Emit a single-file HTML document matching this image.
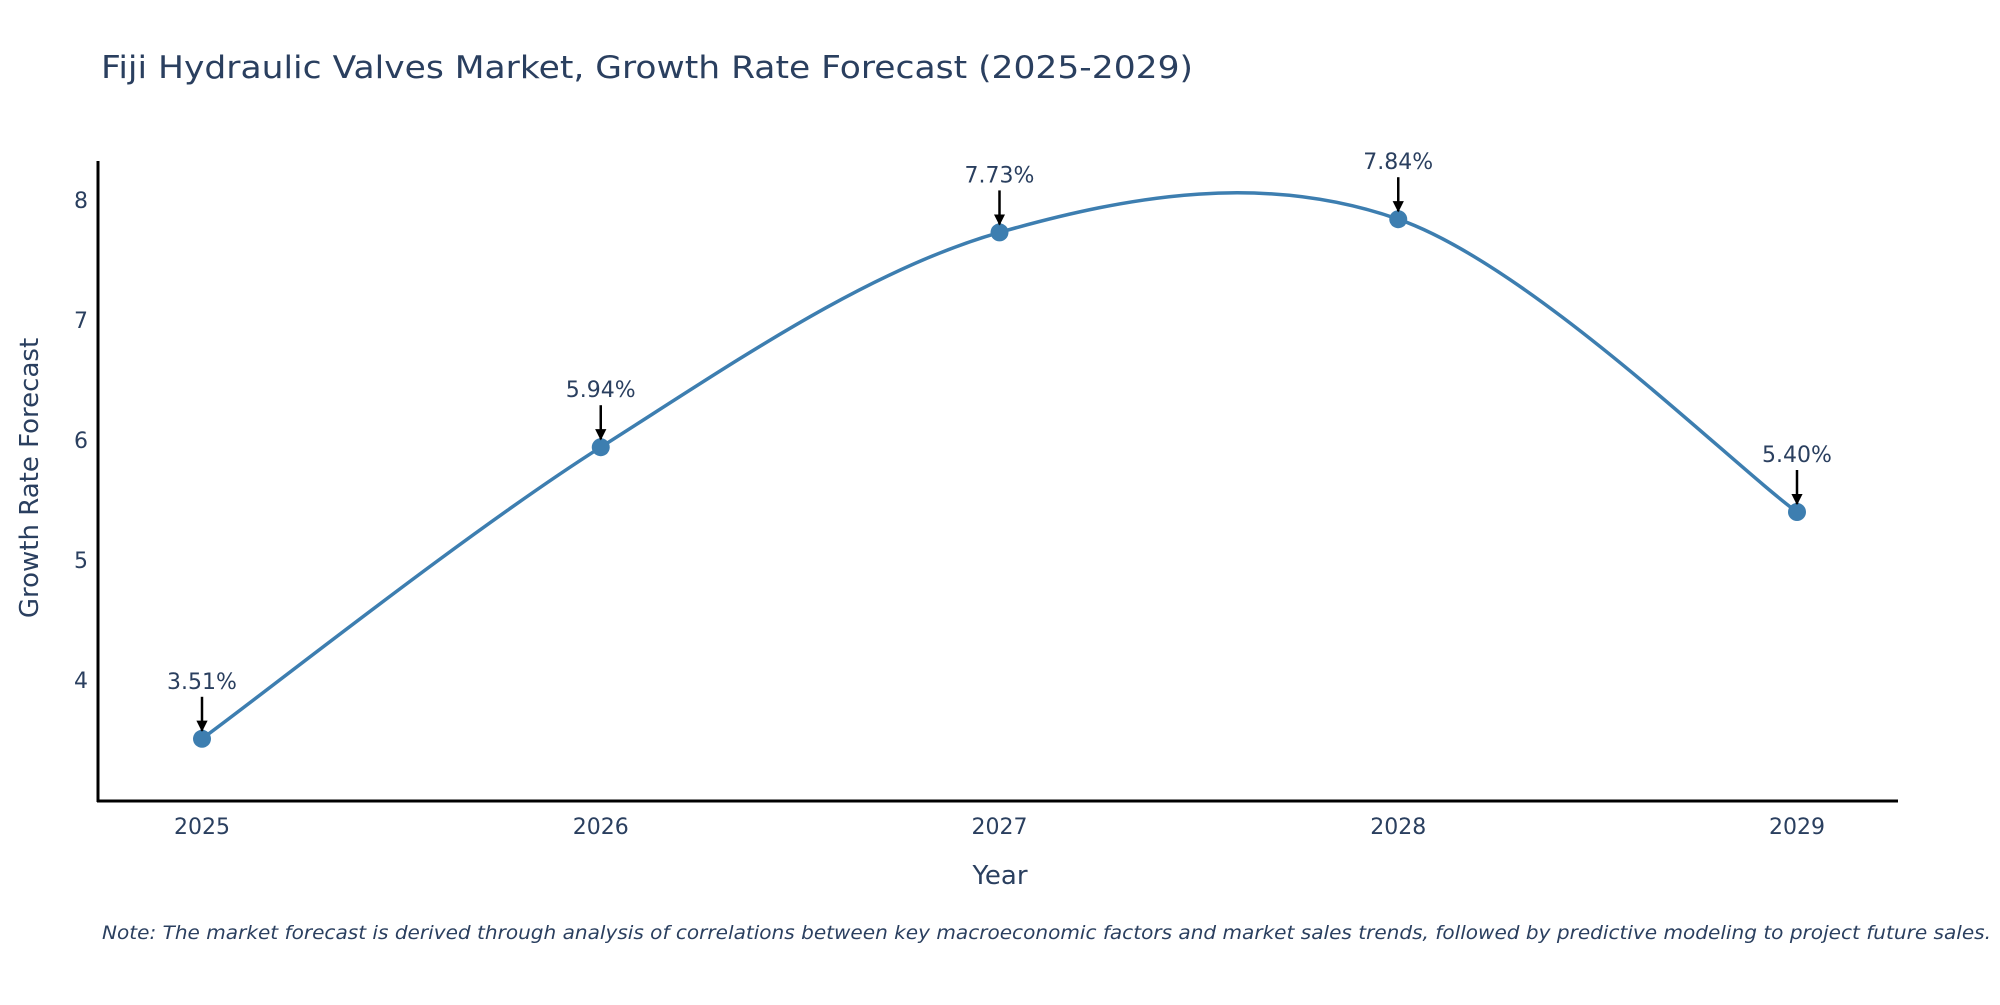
<!DOCTYPE html>
<html><head><meta charset="utf-8"><style>
body{margin:0;background:#fff}
svg text{font-family:"DejaVu Sans","Liberation Sans",sans-serif;fill:#2a3f5f}
</style></head><body>
<svg width="2000" height="1000" xmlns="http://www.w3.org/2000/svg">
<defs><marker id="ah" viewBox="0 0 10 10" refX="9" refY="5" markerWidth="4.5" markerHeight="4.5" orient="auto"><path d="M0,0L10,5L0,10z" fill="#000"/></marker></defs>
<text x="101" y="78" font-size="31" textLength="1092" lengthAdjust="spacingAndGlyphs">Fiji Hydraulic Valves Market, Growth Rate Forecast (2025-2029)</text>
<g id="plot"></g>
<line x1="98" y1="161" x2="98" y2="802" stroke="#000" stroke-width="3"/>
<line x1="97" y1="801" x2="1898" y2="801" stroke="#000" stroke-width="3"/>
<text x="1000" y="884" font-size="26" text-anchor="middle">Year</text>
<text transform="translate(38,478) rotate(-90)" font-size="26" text-anchor="middle">Growth Rate Forecast</text>
<text x="102" y="939" font-size="19" font-style="italic" textLength="1889" lengthAdjust="spacingAndGlyphs">Note: The market forecast is derived through analysis of correlations between key macroeconomic factors and market sales trends, followed by predictive modeling to project future sales.</text>
</svg>
<script>
const years=[2025,2026,2027,2028,2029];
const values=[3.51,5.94,7.73,7.84,5.40];
const labels=["3.51%","5.94%","7.73%","7.84%","5.40%"];
const yTicks=[4,5,6,7,8];
const ns="http://www.w3.org/2000/svg";
const g=document.getElementById('plot');
const X=v=>202+(v-2025)*(1797-202)/4;
const Y=v=>680-(v-4)*120;
function mk(t,a){const e=document.createElementNS(ns,t);for(const k in a)e.setAttribute(k,a[k]);g.appendChild(e);return e;}
yTicks.forEach(t=>{const e=mk('text',{x:88,y:Y(t)+8,'font-size':22,'text-anchor':'end'});e.textContent=t;

});
years.forEach(t=>{const e=mk('text',{x:X(t),y:834,'font-size':22,'text-anchor':'middle'});e.textContent=t;

});
const P=years.map((y,i)=>[X(y),Y(values[i])]);
let d=`M${P[0][0]},${P[0][1]}`;
for(let i=0;i<P.length-1;i++){const p0=P[i-1]||P[i],p1=P[i],p2=P[i+1],p3=P[i+2]||P[i+1];const k=1/6;
d+=` C${p1[0]+(p2[0]-p0[0])*k},${p1[1]+(p2[1]-p0[1])*k} ${p2[0]-(p3[0]-p1[0])*k},${p2[1]-(p3[1]-p1[1])*k} ${p2[0]},${p2[1]}`;}
const ln=mk('path',{d:d,fill:'none',stroke:'#3d7eb0','stroke-width':3.5});


P.forEach((p,i)=>{
const c=mk('circle',{cx:p[0],cy:p[1],r:9,fill:'#3d7eb0'});


const a=mk('line',{x1:p[0],y1:p[1]-42,x2:p[0],y2:p[1]-8,stroke:'#000','stroke-width':2.5,'marker-end':'url(#ah)'});


const t=mk('text',{x:p[0],y:p[1]-50,'font-size':22,'text-anchor':'middle'});t.textContent=labels[i];


});
</script>
</body></html>
